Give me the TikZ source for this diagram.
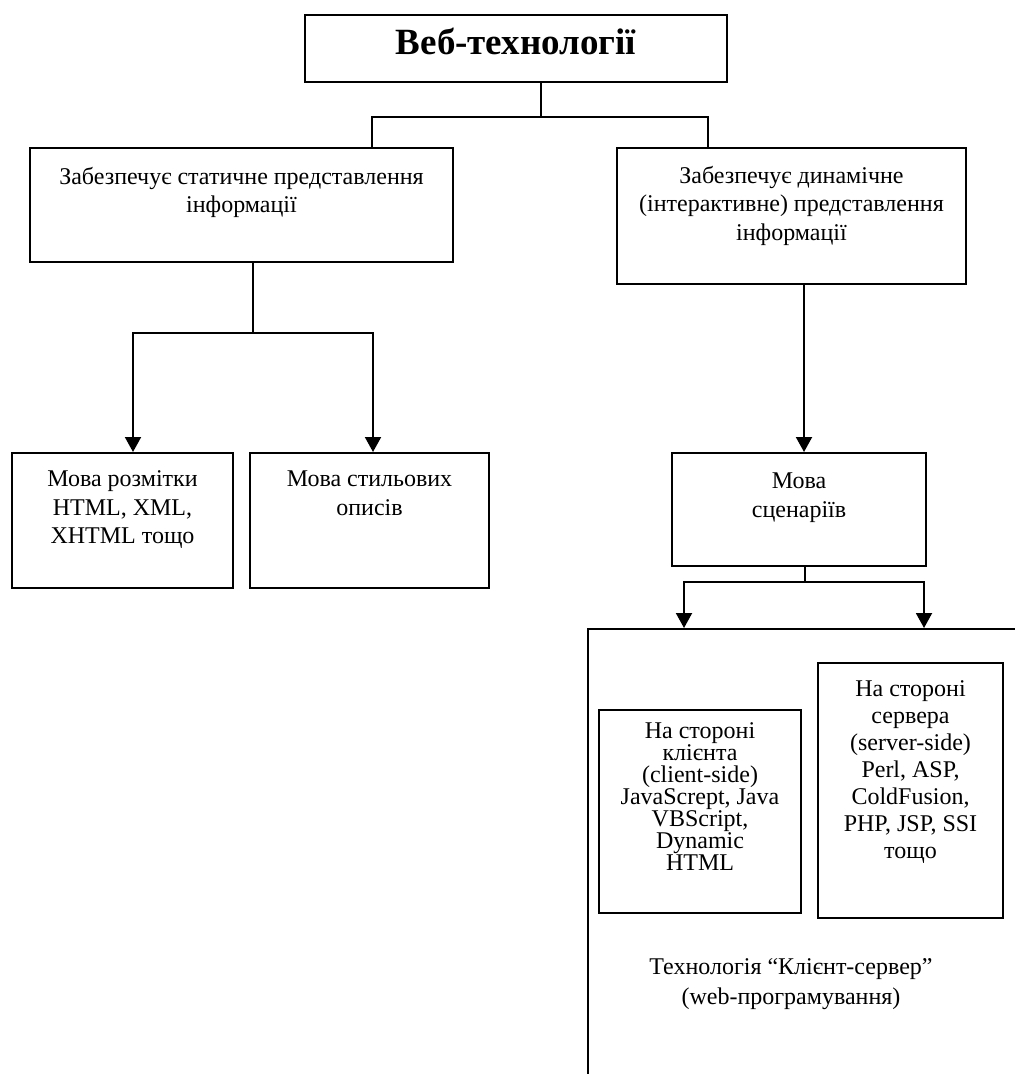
\documentclass[tikz,border=0pt]{standalone}
\usepackage{fontspec}
\setmainfont{Liberation Serif}
\usetikzlibrary{arrows.meta,positioning,fit}

\tikzset{
  box/.style={draw, line width=1pt, inner sep=0pt},
  txt/.style={anchor=north, inner sep=0pt, align=center, font=\fontsize{12}{14.25}\selectfont},
}

\begin{document}
\begin{tikzpicture}[x=0.5pt, y=-0.5pt, line width=1pt,
                    >={Triangle[length=7.5pt,width=8pt]}]
  \useasboundingbox (0,0) rectangle (1015,1074);
  \clip (0,0) rectangle (1015,1074);
  % boxes
  \node[box, fit={(305,15) (727,82)}] (title) {};
  \node[box, fit={(30,148) (453,262)}] (stat) {};
  \node[box, fit={(617,148) (966,284)}] (dyn) {};
  \node[box, fit={(12,453) (233,588)}] (html) {};
  \node[box, fit={(250,453) (489,588)}] (style) {};
  \node[box, fit={(672,453) (926,566)}] (script) {};
  \node[box, fit={(588,629) (1040,1100)}] (cs) {};
  \node[box, fit={(599,710) (801,913)}] (client) {};
  \node[box, fit={(818,663) (1003,918)}] (server) {};
  % texts
  \node[txt, below=6.5pt of title.north, font=\fontsize{18.5}{22}\selectfont\bfseries] (titletxt) {Веб-технології};
  \node[txt, below=9.5pt of stat.north] (stattxt) {Забезпечує статичне представлення\\інформації};
  \node[txt, below=9pt of dyn.north] (dyntxt) {Забезпечує динамічне\\(інтерактивне) представлення\\інформації};
  \node[txt, below=9pt of html.north] (htmltxt) {Мова розмітки\\HTML, XML,\\XHTML тощо};
  \node[txt, below=9pt of style.north] (styletxt) {Мова стильових\\описів};
  \node[txt, below=10pt of script.north] (scripttxt) {Мова\\сценаріїв};
  \node[txt, below=6.5pt of client.north, font=\fontsize{12}{11}\selectfont] (clienttxt)
    {На стороні\\клієнта\\(client-side)\\JavaScrept, Java\\VBScript,\\Dynamic\\HTML};
  \node[txt, below=9pt of server.north, font=\fontsize{12}{13.5}\selectfont] (servertxt)
    {На стороні\\сервера\\(server-side)\\Perl, ASP,\\ColdFusion,\\PHP, JSP, SSI\\тощо};
  \node[txt, font=\fontsize{12}{15}\selectfont] (cstxt) at (791,958)
    {Технологія “Клієнт-сервер”\\(web-програмування)};
  % connectors
  \coordinate (j1) at (541,117);
  \coordinate (j2) at (253,333);
  \coordinate (j3) at (805,582);
  \draw ([xshift=12.5pt]title.south) -- (j1);
  \draw (j1) -| ([xshift=65.25pt]stat.north);
  \draw (j1) -| ([xshift=-41.75pt]dyn.north);
  \draw ([xshift=5.75pt]stat.south) -- (j2);
  \draw[->] (j2) -| ([xshift=5.25pt]html.north);
  \draw[->] (j2) -| ([xshift=1.75pt]style.north);
  \draw[->] ([xshift=6.25pt]dyn.south) -- ([xshift=6.25pt]dyn.south |- script.north);
  \draw ([xshift=3pt]script.south) -- (j3);
  \draw[->] (j3) -| ([xshift=-65pt]cs.north);
  \draw[->] (j3) -| ([xshift=55pt]cs.north);
\end{tikzpicture}
\end{document}
